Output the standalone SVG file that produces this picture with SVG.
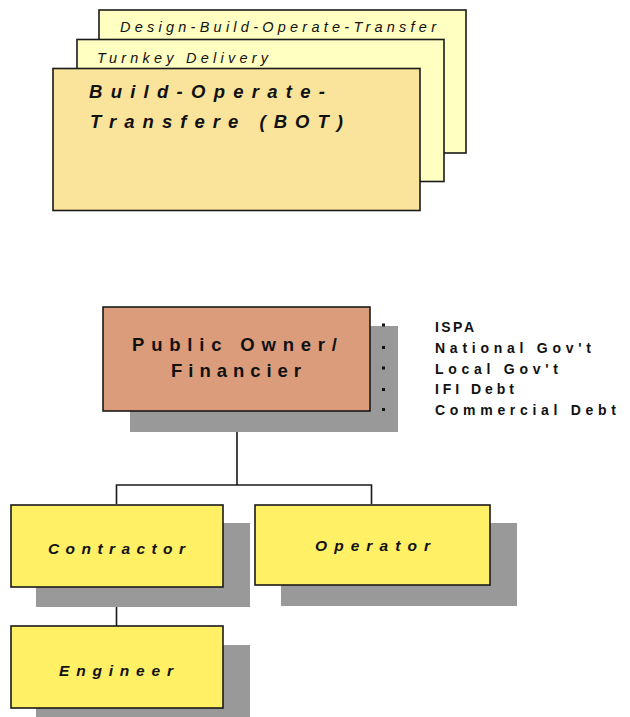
<svg xmlns="http://www.w3.org/2000/svg" width="630" height="717" viewBox="0 0 630 717">
<style>
  .box { stroke: #1a1a1a; stroke-width: 1.6; }
  .pale { fill: #FFFFC2; }
  .front { fill: #FAE39A; }
  .owner { fill: #DB9C7B; }
  .yel { fill: #FFF066; }
  .shadow { fill: #999999; }
  .conn { fill: none; stroke: #1a1a1a; stroke-width: 1.6; }
  .t { font-family: "Liberation Sans", Arial, sans-serif; fill: #111; }
  .it { font-style: italic; }
  .b { font-weight: bold; }
  .bullet { fill: #111; }
</style>
<rect width="630" height="717" fill="#ffffff"/>

<g id="dbot">
  <rect class="box pale" x="99" y="10" width="367" height="143"/>
  <text class="t it" x="120" y="32" font-size="14.5" textLength="316" lengthAdjust="spacing">Design-Build-Operate-Transfer</text>
</g>
<g id="turnkey">
  <rect class="box pale" x="77" y="39.5" width="367" height="142"/>
  <text class="t it" x="97" y="63" font-size="14.5" textLength="171" lengthAdjust="spacing">Turnkey Delivery</text>
</g>
<g id="bot">
  <rect class="box front" x="53" y="68.5" width="367" height="142"/>
  <text class="t it b" x="89" y="98" font-size="18.5" textLength="236" lengthAdjust="spacing">Build-Operate-</text>
  <text class="t it b" x="90" y="128" font-size="18.5" textLength="253" lengthAdjust="spacing">Transfere (BOT)</text>
</g>

<g id="connectors">
  <path class="conn" d="M237 411 V485 M116.5 504 V485 H371.5 V504"/>
  <path class="conn" d="M116.5 587 V626"/>
</g>

<g id="owner">
  <rect class="shadow" x="130" y="326" width="268" height="106"/>
  <rect class="box owner" x="103" y="307" width="267" height="104"/>
  <text class="t b" x="132" y="351" font-size="18.5" textLength="205" lengthAdjust="spacing">Public Owner/</text>
  <text class="t b" x="171" y="377" font-size="18.5" textLength="130" lengthAdjust="spacing">Financier</text>
</g>

<g id="funding">
  <rect class="bullet" x="382" y="323.5" width="3" height="3"/>
  <rect class="bullet" x="382" y="346" width="3" height="3"/>
  <rect class="bullet" x="382" y="366.5" width="3" height="3"/>
  <rect class="bullet" x="382" y="388" width="3" height="3"/>
  <rect class="bullet" x="382" y="408" width="3" height="3"/>
  <text class="t b" x="435" y="332" font-size="14" textLength="39" lengthAdjust="spacing">ISPA</text>
  <text class="t b" x="435" y="353" font-size="14" textLength="156" lengthAdjust="spacing">National Gov't</text>
  <text class="t b" x="435" y="373.5" font-size="14" textLength="123" lengthAdjust="spacing">Local Gov't</text>
  <text class="t b" x="435" y="394" font-size="14" textLength="79" lengthAdjust="spacing">IFI Debt</text>
  <text class="t b" x="435" y="415" font-size="14" textLength="181" lengthAdjust="spacing">Commercial Debt</text>
</g>

<g id="contractor">
  <rect class="shadow" x="36" y="523" width="214" height="84"/>
  <rect class="box yel" x="11" y="505" width="212" height="82"/>
  <text class="t it b" x="48" y="554" font-size="15.5" textLength="137" lengthAdjust="spacing">Contractor</text>
</g>

<g id="operator">
  <rect class="shadow" x="281" y="523" width="236" height="83"/>
  <rect class="box yel" x="255" y="505" width="235" height="80"/>
  <text class="t it b" x="315" y="551" font-size="15.5" textLength="115" lengthAdjust="spacing">Operator</text>
</g>

<g id="engineer">
  <rect class="shadow" x="36" y="645" width="214" height="80"/>
  <rect class="box yel" x="11" y="626" width="212" height="82"/>
  <text class="t it b" x="59" y="676" font-size="15.5" textLength="114" lengthAdjust="spacing">Engineer</text>
</g>
</svg>
